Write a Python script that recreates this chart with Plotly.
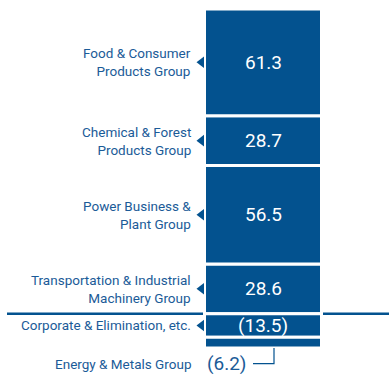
import plotly.graph_objects as go

# Segment data (billions of yen), top-to-bottom order as stacked
groups = [
    "Food & Consumer<br>Products Group",
    "Chemical & Forest<br>Products Group",
    "Power Business &<br>Plant Group",
    "Transportation & Industrial<br>Machinery Group",
    "Corporate & Elimination, etc.",
    "Energy & Metals Group",
]
values = [61.3, 28.7, 56.5, 28.6, -13.5, -6.2]

BLUE = "#03528f"
TEXT_BLUE = "#1b5b98"
FONT = "Roboto, sans-serif"

# Stack positives upward from zero (bottom item first), negatives downward
pos = [(g, v) for g, v in zip(groups, values) if v >= 0]
neg = [(g, v) for g, v in zip(groups, values) if v < 0]
segments = []
acc = 0.0
for g, v in reversed(pos):
    segments.append((g, v, acc))
    acc += v
top_total = acc
acc = 0.0
for g, v in neg:
    segments.append((g, v, acc))
    acc += v
bottom_total = acc

BAR_X = 263
BAR_W = 117

fig = go.Figure()
for g, v, base in segments:
    fig.add_trace(go.Bar(
        x=[BAR_X], y=[v], base=[base], width=[BAR_W],
        marker=dict(color=BLUE, line=dict(color="white", width=3)),
        hoverinfo="skip", showlegend=False,
    ))

ann = []
arrow_y = []
label_font = dict(family=FONT, size=13.5, color=TEXT_BLUE)
for g, v, base in segments:
    mid = base + v / 2
    if v >= 0:
        txt = f"{v:.1f}"
    else:
        txt = f"({abs(v):.1f})"
    if g.startswith("Energy"):
        label_y = base + v - 9.0
        ann.append(dict(x=205, y=label_y, text=txt, xanchor="left", showarrow=False,
                        font=dict(family=FONT, size=19, color=TEXT_BLUE)))
        ann.append(dict(x=193, y=label_y, text=g, xanchor="right", align="right",
                        showarrow=False, font=label_font))
        fig.add_shape(type="path",
                      path=f"M 253 {label_y} L 274 {label_y} L 274 {base + v}",
                      line=dict(color=BLUE, width=1.2))
        continue
    ann.append(dict(x=BAR_X, y=mid, text=txt, showarrow=False,
                    font=dict(family=FONT, size=19, color="white")))
    ann.append(dict(x=193, y=mid, text=g, xanchor="right", align="right",
                    showarrow=False, font=label_font))
    arrow_y.append(mid)

# Small pointers from labels to the bar
fig.add_trace(go.Scatter(
    x=[201.5] * len(arrow_y), y=arrow_y, mode="markers",
    marker=dict(symbol="triangle-left", size=10, color=BLUE),
    hoverinfo="skip", showlegend=False,
))

# Zero baseline, broken around the bar
fig.add_shape(type="line", x0=7, x1=203, y0=0, y1=0, line=dict(color=BLUE, width=2.5))
fig.add_shape(type="line", x0=323, x1=389, y0=0, y1=0, line=dict(color=BLUE, width=2.5))

px_per_unit = 1.735
fig.update_layout(
    width=389, height=374,
    margin=dict(l=0, r=0, t=0, b=0),
    paper_bgcolor="white", plot_bgcolor="white",
    barmode="overlay",
    annotations=ann,
    xaxis=dict(range=[0, 389], visible=False, fixedrange=True),
    yaxis=dict(range=[bottom_total - 26 / px_per_unit, top_total + 9 / px_per_unit],
               visible=False, fixedrange=True),
)

fig.write_html("out.html")
